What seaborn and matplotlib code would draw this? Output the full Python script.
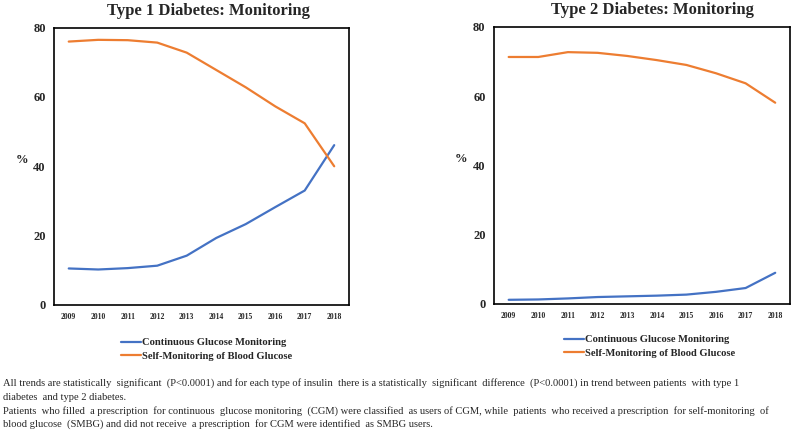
import pandas as pd
import matplotlib.pyplot as plt
import seaborn as sns

years = [2009, 2010, 2011, 2012, 2013, 2014, 2015, 2016, 2017, 2018]
series = ['Continuous Glucose Monitoring', 'Self-Monitoring of Blood Glucose']

t1_cgm = [10.5, 10.2, 10.6, 11.3, 14.2, 19.3, 23.3, 28.2, 33.0, 46.1]
t1_smbg = [76.0, 76.5, 76.4, 75.7, 72.8, 67.8, 62.8, 57.3, 52.4, 40.0]
t2_cgm = [1.2, 1.3, 1.6, 2.0, 2.2, 2.4, 2.7, 3.5, 4.6, 9.0]
t2_smbg = [71.3, 71.3, 72.7, 72.5, 71.6, 70.4, 69.0, 66.6, 63.7, 58.1]

titles = ['Type 1 Diabetes: Monitoring', 'Type 2 Diabetes: Monitoring']
cores = ['#4472C4', '#ED7D31']

nota = [
    "All trends are statistically  significant  (P<0.0001) and for each type of insulin  there is a statistically  significant  difference  (P<0.0001) in trend between patients  with type 1",
    "diabetes  and type 2 diabetes.",
    "Patients  who filled  a prescription  for continuous  glucose monitoring  (CGM) were classified  as users of CGM, while  patients  who received a prescription  for self-monitoring  of",
    "blood glucose  (SMBG) and did not receive  a prescription  for CGM were identified  as SMBG users.",
]


def montar(cgm, smbg):
    return pd.DataFrame({
        'Ano': years * 2,
        'Valor': cgm + smbg,
        'Serie': [series[0]] * len(years) + [series[1]] * len(years),
    })


sns.set_style('white')
plt.rcParams['font.family'] = ['Liberation Serif', 'DejaVu Serif']

fig = plt.figure(figsize=(7.94, 4.33), dpi=100)
ax1 = fig.add_axes([0.068, 0.296, 0.3715, 0.64])
ax2 = fig.add_axes([0.622, 0.298, 0.373, 0.64])

# posicao das legendas (fração da figura)
legend_pos = [(121 / 794, 1 - 338 / 433), (564 / 794, 1 - 335 / 433)]
title_x = [0.525, 0.535]

for ax, df, titulo, lp, tx in zip([ax1, ax2],
                                  [montar(t1_cgm, t1_smbg), montar(t2_cgm, t2_smbg)],
                                  titles, legend_pos, title_x):
    sns.lineplot(data=df, x='Ano', y='Valor', hue='Serie', palette=cores,
                 linewidth=1.6, ax=ax)
    ax.set_xlim(2008.5, 2018.5)
    ax.set_ylim(0, 80)
    ax.set_yticks([0, 20, 40, 60, 80])
    ax.set_xticks(years)
    ax.set_xticklabels([str(a) for a in years], fontsize=5.5, fontweight='bold')
    ax.set_yticklabels(['0', '20', '40', '60', '80'], fontsize=9, fontweight='bold')
    ax.tick_params(length=0, pad=6)
    ax.set_xlabel('')
    ax.set_ylabel('%', rotation=0, fontsize=9, fontweight='bold', labelpad=4)
    ax.yaxis.set_label_coords(-0.11, 0.5)
    ax.set_title(titulo, fontsize=12, fontweight='bold', pad=9, x=tx)
    for s in ax.spines.values():
        s.set_color('black')
        s.set_linewidth(1.2)
    ax.get_legend().remove()
    h, l = ax.get_legend_handles_labels()
    fig.legend(h, l, loc='upper left', bbox_to_anchor=lp, frameon=False,
               handlelength=1.9, handletextpad=0.1, labelspacing=0.4,
               borderaxespad=0, borderpad=0,
               prop={'family': 'Liberation Serif', 'weight': 'bold', 'size': 7.6})

for linha, y in zip(nota, [383, 398, 411, 424]):
    fig.text(0.004, 1 - y / 433, linha, fontsize=7.55, va='center', ha='left')

plt.savefig('out.png', dpi=100)
